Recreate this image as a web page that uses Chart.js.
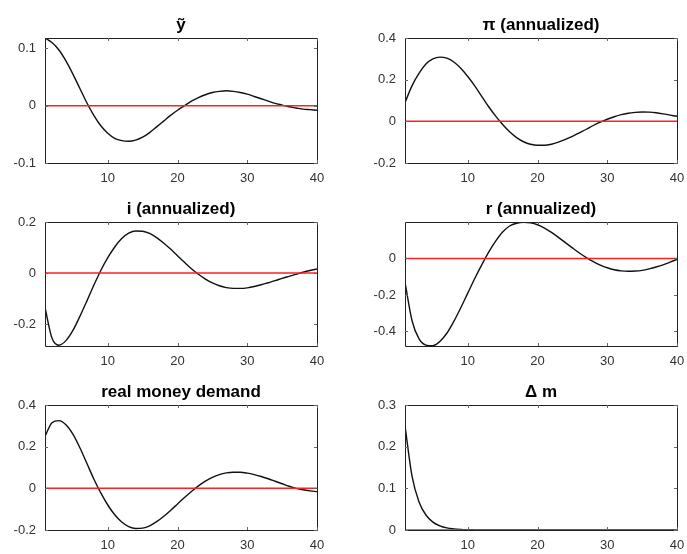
<!DOCTYPE html>
<html>
<head>
<meta charset="utf-8">
<script src="https://cdn.jsdelivr.net/npm/chart.js@4.4.1/dist/chart.umd.min.js"></script>
<style>
  html, body { margin: 0; padding: 0; background: #fff; }
  body { width: 687px; height: 554px; position: relative; overflow: hidden; }
  .cell { position: absolute; }
</style>
</head>
<body>
<div class="cell" id="c1" style="left:0px;top:0px;width:343px;height:185px"><canvas id="p1"></canvas></div>
<div class="cell" id="c2" style="left:360px;top:0px;width:327px;height:185px"><canvas id="p2"></canvas></div>
<div class="cell" id="c3" style="left:0px;top:184px;width:343px;height:184px"><canvas id="p3"></canvas></div>
<div class="cell" id="c4" style="left:360px;top:184px;width:327px;height:184px"><canvas id="p4"></canvas></div>
<div class="cell" id="c5" style="left:0px;top:367px;width:343px;height:185px"><canvas id="p5"></canvas></div>
<div class="cell" id="c6" style="left:360px;top:367px;width:327px;height:185px"><canvas id="p6"></canvas></div>
<script>
// ---- data ----
const periods = [1,2,3,4,5,6,7,8,9,10,11,12,13,14,15,16,17,18,19,20,21,22,23,24,25,26,27,28,29,30,31,32,33,34,35,36,37,38,39,40];
const zeroLine = [0,0,0,0,0,0,0,0,0,0,0,0,0,0,0,0,0,0,0,0,0,0,0,0,0,0,0,0,0,0,0,0,0,0,0,0,0,0,0,0];

const outputGap = [0.118,0.110,0.097,0.078,0.055,0.030,0.005,-0.017,-0.035,-0.048,
  -0.057,-0.061,-0.062,-0.060,-0.055,-0.047,-0.037,-0.027,-0.017,-0.008,
  0.000,0.008,0.014,0.019,0.023,0.025,0.026,0.025,0.023,0.020,
  0.016,0.012,0.008,0.004,0.001,-0.002,-0.004,-0.006,-0.007,-0.008];

const inflation = [0.09,0.17,0.23,0.275,0.300,0.308,0.303,0.285,0.255,0.215,
  0.170,0.120,0.070,0.025,-0.015,-0.050,-0.078,-0.098,-0.110,-0.115,
  -0.115,-0.110,-0.100,-0.087,-0.072,-0.055,-0.038,-0.020,-0.004,0.010,
  0.022,0.032,0.039,0.043,0.045,0.044,0.041,0.036,0.030,0.024];

const nominalRate = [-0.135,-0.255,-0.283,-0.265,-0.225,-0.170,-0.110,-0.048,0.010,0.060,
  0.102,0.135,0.156,0.165,0.164,0.155,0.139,0.118,0.094,0.068,
  0.042,0.017,-0.005,-0.024,-0.039,-0.050,-0.057,-0.060,-0.060,-0.058,
  -0.053,-0.046,-0.038,-0.030,-0.021,-0.013,-0.005,0.003,0.010,0.016];

const realRate = [-0.13,-0.34,-0.44,-0.475,-0.478,-0.455,-0.41,-0.345,-0.27,-0.19,
  -0.11,-0.035,0.035,0.095,0.145,0.178,0.193,0.198,0.195,0.185,
  0.167,0.143,0.116,0.087,0.058,0.030,0.005,-0.017,-0.036,-0.051,
  -0.062,-0.068,-0.070,-0.069,-0.065,-0.057,-0.047,-0.035,-0.020,-0.005];

const moneyDemand = [0.25,0.315,0.325,0.305,0.26,0.195,0.12,0.045,-0.022,-0.080,
  -0.127,-0.162,-0.184,-0.193,-0.191,-0.180,-0.160,-0.135,-0.106,-0.075,
  -0.044,-0.015,0.012,0.035,0.053,0.066,0.074,0.077,0.077,0.073,
  0.066,0.057,0.046,0.034,0.022,0.010,0.000,-0.007,-0.012,-0.016];

const moneyGrowth = [0.25,0.13,0.068,0.036,0.019,0.010,0.005,0.0027,0.0014,0.0007,
  0.0004,0.0002,0.0001,0.00005,0.00003,0.00001,0,0,0,0,
  0,0,0,0,0,0,0,0,0,0,
  0,0,0,0,0,0,0,0,0,0];

const xTicks = [10,20,30,40];
const yTicks1 = [-0.1,0,0.1];
const yTicks2 = [-0.2,0,0.2,0.4];
const yTicks3 = [-0.2,0,0.2];
const yTicks4 = [-0.4,-0.2,0];
const yTicks5 = [-0.2,0,0.2,0.4];
const yTicks6 = [0,0.1,0.2,0.3];

const titles = ['ỹ','π (annualized)','i (annualized)','r (annualized)','real money demand','Δ m'];

// ---- drawing ----
const FONT = '"Liberation Sans", Arial, Helvetica, sans-serif';

const boxPlugin = {
  id: 'boxPlugin',
  afterDatasetsDraw(chart) {
    const {ctx, chartArea: a, scales} = chart;
    ctx.save();
    ctx.strokeStyle = '#222';
    ctx.lineWidth = 1;
    ctx.beginPath();
    ctx.rect(Math.round(a.left) + 0.5, Math.round(a.top) + 0.5,
             Math.round(a.right - a.left), Math.round(a.bottom - a.top));
    ctx.stroke();
    // inward tick marks
    ctx.strokeStyle = '#666';
    ctx.beginPath();
    const tl = 3;
    scales.x.ticks.forEach(t => {
      const px = Math.round(scales.x.getPixelForValue(t.value)) + 0.5;
      ctx.moveTo(px, a.bottom); ctx.lineTo(px, a.bottom - tl);
      ctx.moveTo(px, a.top); ctx.lineTo(px, a.top + tl);
    });
    scales.y.ticks.forEach(t => {
      const py = Math.round(scales.y.getPixelForValue(t.value)) + 0.5;
      ctx.moveTo(a.left, py); ctx.lineTo(a.left + tl, py);
      ctx.moveTo(a.right, py); ctx.lineTo(a.right - tl, py);
    });
    ctx.stroke();
    ctx.restore();
  }
};

function makeChart(id, title, series, ymin, ymax, yTickVals, padRight) {
  new Chart(document.getElementById(id), {
    type: 'line',
    data: {
      labels: periods,
      datasets: [
        {
          data: zeroLine.map((v, i) => ({x: periods[i], y: v})),
          borderColor: '#ff2020',
          borderWidth: 1.5,
          pointRadius: 0,
          tension: 0
        },
        {
          data: series.map((v, i) => ({x: periods[i], y: v})),
          borderColor: '#111',
          borderWidth: 1.4,
          pointRadius: 0,
          cubicInterpolationMode: 'monotone'
        }
      ]
    },
    options: {
      responsive: true,
      maintainAspectRatio: false,
      animation: false,
      events: [],
      layout: { padding: { left: 0, right: padRight, top: 0, bottom: 0 } },
      plugins: {
        legend: { display: false },
        tooltip: { enabled: false },
        title: {
          display: true,
          fullSize: false,
          text: title,
          color: '#000',
          font: { family: FONT, size: 17, weight: 'bold', lineHeight: 1.2 },
          padding: { top: 15, bottom: 2.6 }
        }
      },
      scales: {
        x: {
          type: 'linear',
          min: 1, max: 40,
          afterBuildTicks: axis => { axis.ticks = xTicks.map(v => ({value: v})); },
          afterFit: s => { s.height = 22; s.paddingRight = 0; s.paddingLeft = 0; },
          grid: { display: false, drawTicks: false },
          border: { display: false },
          ticks: {
            padding: 8,
            color: '#333',
            font: { family: FONT, size: 13 },
            maxRotation: 0,
            callback: v => String(v)
          }
        },
        y: {
          type: 'linear',
          min: ymin, max: ymax,
          afterBuildTicks: axis => { axis.ticks = yTickVals.map(v => ({value: v})); },
          afterFit: s => { s.width = 45; s.paddingTop = 0; s.paddingBottom = 0; },
          grid: { display: false, drawTicks: false },
          border: { display: false },
          ticks: {
            padding: 9,
            color: '#333',
            font: { family: FONT, size: 13 },
            callback: v => String(v)
          }
        }
      }
    },
    plugins: [boxPlugin]
  });
}

makeChart('p1', titles[0], outputGap, -0.1, 0.118, yTicks1, 26);
makeChart('p2', titles[1], inflation, -0.2, 0.4, yTicks2, 10);
makeChart('p3', titles[2], nominalRate, -0.286, 0.2, yTicks3, 26);
makeChart('p4', titles[3], realRate, -0.48, 0.2, yTicks4, 10);
makeChart('p5', titles[4], moneyDemand, -0.2, 0.4, yTicks5, 26);
makeChart('p6', titles[5], moneyGrowth, 0, 0.3, yTicks6, 10);
</script>
</body>
</html>
